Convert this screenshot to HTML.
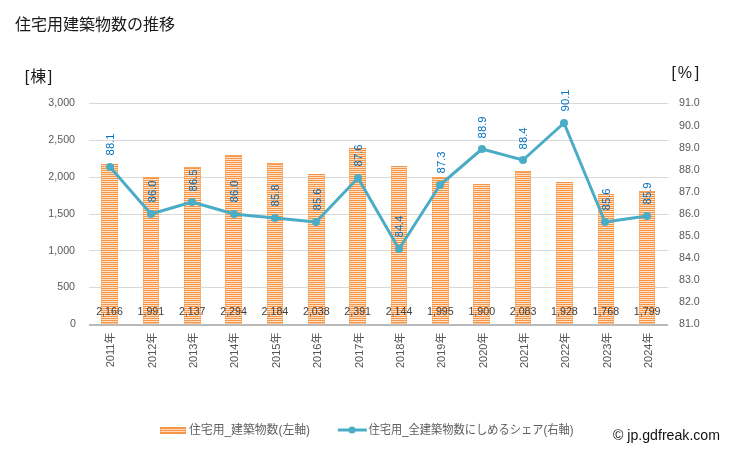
<!DOCTYPE html>
<html lang="ja"><head><meta charset="utf-8"><title>住宅用建築物数の推移</title>
<style>
html,body{margin:0;padding:0;background:#fff;}
body{width:729px;height:451px;overflow:hidden;font-family:"Liberation Sans","Noto Sans CJK JP",sans-serif;}
svg{display:block;}
text{font-family:"Liberation Sans","Noto Sans CJK JP",sans-serif;}
</style></head><body>
<svg width="729" height="451" viewBox="0 0 729 451">
<defs>
<pattern id="st" x="0" y="0" width="2" height="2" patternUnits="userSpaceOnUse">
<rect x="0" y="0" width="2" height="2" fill="#fde2ca"/>
<rect x="0" y="0" width="2" height="1" fill="#f79646"/>
</pattern>
</defs>
<rect width="729" height="451" fill="#fff"/>

<text x="15" y="30" font-size="16" fill="#1a1a1a">住宅用建築物数の推移</text>
<text x="24.7 30.2 47.7" y="82.4" font-size="16" fill="#1a1a1a">[棟]</text>
<text x="671.6 677.8 694.8" y="78" font-size="16" fill="#1a1a1a">[%]</text>
<line x1="89" x2="668.5" y1="103.5" y2="103.5" stroke="#d9d9d9" stroke-width="1"/>
<line x1="89" x2="668.5" y1="140.5" y2="140.5" stroke="#d9d9d9" stroke-width="1"/>
<line x1="89" x2="668.5" y1="177.5" y2="177.5" stroke="#d9d9d9" stroke-width="1"/>
<line x1="89" x2="668.5" y1="214.5" y2="214.5" stroke="#d9d9d9" stroke-width="1"/>
<line x1="89" x2="668.5" y1="250.5" y2="250.5" stroke="#d9d9d9" stroke-width="1"/>
<line x1="89" x2="668.5" y1="287.5" y2="287.5" stroke="#d9d9d9" stroke-width="1"/>
<text x="75.9" y="327.25" font-size="10.67" fill="#595959" text-anchor="end">0</text>
<text x="75" y="290.41" font-size="10.67" fill="#595959" text-anchor="end">500</text>
<text x="75" y="253.57" font-size="10.67" fill="#595959" text-anchor="end">1,000</text>
<text x="75" y="216.72" font-size="10.67" fill="#595959" text-anchor="end">1,500</text>
<text x="75" y="179.88" font-size="10.67" fill="#595959" text-anchor="end">2,000</text>
<text x="75" y="143.04" font-size="10.67" fill="#595959" text-anchor="end">2,500</text>
<text x="75" y="106.20" font-size="10.67" fill="#595959" text-anchor="end">3,000</text>
<text x="679" y="327.45" font-size="10.67" fill="#595959">81.0</text>
<text x="679" y="305.34" font-size="10.67" fill="#595959">82.0</text>
<text x="679" y="283.24" font-size="10.67" fill="#595959">83.0</text>
<text x="679" y="261.13" font-size="10.67" fill="#595959">84.0</text>
<text x="679" y="239.03" font-size="10.67" fill="#595959">85.0</text>
<text x="679" y="216.93" font-size="10.67" fill="#595959">86.0</text>
<text x="679" y="194.82" font-size="10.67" fill="#595959">87.0</text>
<text x="679" y="172.72" font-size="10.67" fill="#595959">88.0</text>
<text x="679" y="150.61" font-size="10.67" fill="#595959">89.0</text>
<text x="679" y="128.50" font-size="10.67" fill="#595959">90.0</text>
<text x="679" y="106.40" font-size="10.67" fill="#595959">91.0</text>
<rect x="101" y="164" width="17" height="160" fill="url(#st)"/>
<rect x="101.5" y="164.5" width="16" height="159" fill="none" stroke="#f79646" stroke-opacity="0.35" stroke-width="1"/>
<rect x="101" y="164" width="17" height="1" fill="#f79646" fill-opacity="0.7"/>
<rect x="143" y="177" width="16" height="147" fill="url(#st)"/>
<rect x="143.5" y="177.5" width="15" height="146" fill="none" stroke="#f79646" stroke-opacity="0.35" stroke-width="1"/>
<rect x="143" y="177" width="16" height="1" fill="#f79646" fill-opacity="0.7"/>
<rect x="184" y="167" width="17" height="157" fill="url(#st)"/>
<rect x="184.5" y="167.5" width="16" height="156" fill="none" stroke="#f79646" stroke-opacity="0.35" stroke-width="1"/>
<rect x="184" y="167" width="17" height="1" fill="#f79646" fill-opacity="0.7"/>
<rect x="225" y="155" width="17" height="169" fill="url(#st)"/>
<rect x="225.5" y="155.5" width="16" height="168" fill="none" stroke="#f79646" stroke-opacity="0.35" stroke-width="1"/>
<rect x="225" y="155" width="17" height="1" fill="#f79646" fill-opacity="0.7"/>
<rect x="267" y="163" width="16" height="161" fill="url(#st)"/>
<rect x="267.5" y="163.5" width="15" height="160" fill="none" stroke="#f79646" stroke-opacity="0.35" stroke-width="1"/>
<rect x="267" y="163" width="16" height="1" fill="#f79646" fill-opacity="0.7"/>
<rect x="308" y="174" width="17" height="150" fill="url(#st)"/>
<rect x="308.5" y="174.5" width="16" height="149" fill="none" stroke="#f79646" stroke-opacity="0.35" stroke-width="1"/>
<rect x="308" y="174" width="17" height="1" fill="#f79646" fill-opacity="0.7"/>
<rect x="349" y="148" width="17" height="176" fill="url(#st)"/>
<rect x="349.5" y="148.5" width="16" height="175" fill="none" stroke="#f79646" stroke-opacity="0.35" stroke-width="1"/>
<rect x="349" y="148" width="17" height="1" fill="#f79646" fill-opacity="0.7"/>
<rect x="391" y="166" width="16" height="158" fill="url(#st)"/>
<rect x="391.5" y="166.5" width="15" height="157" fill="none" stroke="#f79646" stroke-opacity="0.35" stroke-width="1"/>
<rect x="391" y="166" width="16" height="1" fill="#f79646" fill-opacity="0.7"/>
<rect x="432" y="177" width="17" height="147" fill="url(#st)"/>
<rect x="432.5" y="177.5" width="16" height="146" fill="none" stroke="#f79646" stroke-opacity="0.35" stroke-width="1"/>
<rect x="432" y="177" width="17" height="1" fill="#f79646" fill-opacity="0.7"/>
<rect x="473" y="184" width="17" height="140" fill="url(#st)"/>
<rect x="473.5" y="184.5" width="16" height="139" fill="none" stroke="#f79646" stroke-opacity="0.35" stroke-width="1"/>
<rect x="473" y="184" width="17" height="1" fill="#f79646" fill-opacity="0.7"/>
<rect x="515" y="171" width="16" height="153" fill="url(#st)"/>
<rect x="515.5" y="171.5" width="15" height="152" fill="none" stroke="#f79646" stroke-opacity="0.35" stroke-width="1"/>
<rect x="515" y="171" width="16" height="1" fill="#f79646" fill-opacity="0.7"/>
<rect x="556" y="182" width="17" height="142" fill="url(#st)"/>
<rect x="556.5" y="182.5" width="16" height="141" fill="none" stroke="#f79646" stroke-opacity="0.35" stroke-width="1"/>
<rect x="556" y="182" width="17" height="1" fill="#f79646" fill-opacity="0.7"/>
<rect x="598" y="194" width="16" height="130" fill="url(#st)"/>
<rect x="598.5" y="194.5" width="15" height="129" fill="none" stroke="#f79646" stroke-opacity="0.35" stroke-width="1"/>
<rect x="598" y="194" width="16" height="1" fill="#f79646" fill-opacity="0.7"/>
<rect x="639" y="191" width="16" height="133" fill="url(#st)"/>
<rect x="639.5" y="191.5" width="15" height="132" fill="none" stroke="#f79646" stroke-opacity="0.35" stroke-width="1"/>
<rect x="639" y="191" width="16" height="1" fill="#f79646" fill-opacity="0.7"/>
<rect x="89" y="324" width="579" height="2" fill="#bababa"/>
<text x="109.50" y="314.9" font-size="10.67" fill="#404040" text-anchor="middle">2,166</text>
<text x="150.86" y="314.9" font-size="10.67" fill="#404040" text-anchor="middle">1,991</text>
<text x="192.22" y="314.9" font-size="10.67" fill="#404040" text-anchor="middle">2,137</text>
<text x="233.58" y="314.9" font-size="10.67" fill="#404040" text-anchor="middle">2,294</text>
<text x="274.94" y="314.9" font-size="10.67" fill="#404040" text-anchor="middle">2,184</text>
<text x="316.30" y="314.9" font-size="10.67" fill="#404040" text-anchor="middle">2,038</text>
<text x="357.66" y="314.9" font-size="10.67" fill="#404040" text-anchor="middle">2,391</text>
<text x="399.02" y="314.9" font-size="10.67" fill="#404040" text-anchor="middle">2,144</text>
<text x="440.38" y="314.9" font-size="10.67" fill="#404040" text-anchor="middle">1,995</text>
<text x="481.74" y="314.9" font-size="10.67" fill="#404040" text-anchor="middle">1,900</text>
<text x="523.10" y="314.9" font-size="10.67" fill="#404040" text-anchor="middle">2,083</text>
<text x="564.46" y="314.9" font-size="10.67" fill="#404040" text-anchor="middle">1,928</text>
<text x="605.82" y="314.9" font-size="10.67" fill="#404040" text-anchor="middle">1,768</text>
<text x="647.18" y="314.9" font-size="10.67" fill="#404040" text-anchor="middle">1,799</text>
<text transform="translate(114.40,332.6) rotate(-90)" font-size="11" fill="#555" text-anchor="end">2011年</text>
<text transform="translate(155.76,332.6) rotate(-90)" font-size="11" fill="#555" text-anchor="end">2012年</text>
<text transform="translate(197.12,332.6) rotate(-90)" font-size="11" fill="#555" text-anchor="end">2013年</text>
<text transform="translate(238.48,332.6) rotate(-90)" font-size="11" fill="#555" text-anchor="end">2014年</text>
<text transform="translate(279.84,332.6) rotate(-90)" font-size="11" fill="#555" text-anchor="end">2015年</text>
<text transform="translate(321.20,332.6) rotate(-90)" font-size="11" fill="#555" text-anchor="end">2016年</text>
<text transform="translate(362.56,332.6) rotate(-90)" font-size="11" fill="#555" text-anchor="end">2017年</text>
<text transform="translate(403.92,332.6) rotate(-90)" font-size="11" fill="#555" text-anchor="end">2018年</text>
<text transform="translate(445.28,332.6) rotate(-90)" font-size="11" fill="#555" text-anchor="end">2019年</text>
<text transform="translate(486.64,332.6) rotate(-90)" font-size="11" fill="#555" text-anchor="end">2020年</text>
<text transform="translate(528.00,332.6) rotate(-90)" font-size="11" fill="#555" text-anchor="end">2021年</text>
<text transform="translate(569.36,332.6) rotate(-90)" font-size="11" fill="#555" text-anchor="end">2022年</text>
<text transform="translate(610.72,332.6) rotate(-90)" font-size="11" fill="#555" text-anchor="end">2023年</text>
<text transform="translate(652.08,332.6) rotate(-90)" font-size="11" fill="#555" text-anchor="end">2024年</text>
<polyline points="110,167 151,214 192,202 234,214 275,218 316,222 358,178 399,249 440,185 482,149 523,160 564,123 605,222 647,216" fill="none" stroke="#4bacc6" stroke-width="3" stroke-linejoin="round" stroke-linecap="round"/>
<circle cx="110" cy="167" r="4" fill="#4bacc6"/>
<circle cx="151" cy="214" r="4" fill="#4bacc6"/>
<circle cx="192" cy="202" r="4" fill="#4bacc6"/>
<circle cx="234" cy="214" r="4" fill="#4bacc6"/>
<circle cx="275" cy="218" r="4" fill="#4bacc6"/>
<circle cx="316" cy="222" r="4" fill="#4bacc6"/>
<circle cx="358" cy="178" r="4" fill="#4bacc6"/>
<circle cx="399" cy="249" r="4" fill="#4bacc6"/>
<circle cx="440" cy="185" r="4" fill="#4bacc6"/>
<circle cx="482" cy="149" r="4" fill="#4bacc6"/>
<circle cx="523" cy="160" r="4" fill="#4bacc6"/>
<circle cx="564" cy="123" r="4" fill="#4bacc6"/>
<circle cx="605" cy="222" r="4" fill="#4bacc6"/>
<circle cx="647" cy="216" r="4" fill="#4bacc6"/>
<text transform="translate(114.1,155.4) rotate(-90)" font-size="11.3" fill="#0070c0">88.1</text>
<text transform="translate(156.1,202.4) rotate(-90)" font-size="11.3" fill="#0070c0">86.0</text>
<text transform="translate(197.1,191.4) rotate(-90)" font-size="11.3" fill="#0070c0">86.5</text>
<text transform="translate(238.1,202.4) rotate(-90)" font-size="11.3" fill="#0070c0">86.0</text>
<text transform="translate(279.1,206.4) rotate(-90)" font-size="11.3" fill="#0070c0">85.8</text>
<text transform="translate(321.1,210.4) rotate(-90)" font-size="11.3" fill="#0070c0">85.6</text>
<text transform="translate(362.1,166.4) rotate(-90)" font-size="11.3" fill="#0070c0">87.6</text>
<text transform="translate(403.1,237.4) rotate(-90)" font-size="11.3" fill="#0070c0">84.4</text>
<text transform="translate(445.1,173.4) rotate(-90)" font-size="11.3" fill="#0070c0">87.3</text>
<text transform="translate(486.1,138.4) rotate(-90)" font-size="11.3" fill="#0070c0">88.9</text>
<text transform="translate(527.1,149.4) rotate(-90)" font-size="11.3" fill="#0070c0">88.4</text>
<text transform="translate(569.1,111.4) rotate(-90)" font-size="11.3" fill="#0070c0">90.1</text>
<text transform="translate(610.1,210.4) rotate(-90)" font-size="11.3" fill="#0070c0">85.6</text>
<text transform="translate(651.1,204.4) rotate(-90)" font-size="11.3" fill="#0070c0">85.9</text>
<rect x="160" y="427" width="26" height="7" fill="#f79646"/>
<rect x="160.6" y="429" width="24.8" height="1" fill="#fcd9bc"/>
<rect x="160.6" y="431" width="24.8" height="1" fill="#fcd9bc"/>
<text x="189" y="434" font-size="12" fill="#606060" textLength="121" lengthAdjust="spacingAndGlyphs">住宅用_建築物数(左軸)</text>
<line x1="337.8" x2="366.8" y1="430" y2="430" stroke="#4bacc6" stroke-width="3"/>
<circle cx="352" cy="430" r="3.6" fill="#4bacc6"/>
<text x="368.5" y="434" font-size="12" fill="#606060" textLength="205" lengthAdjust="spacingAndGlyphs">住宅用_全建築物数にしめるシェア(右軸)</text>
<text x="613" y="440.2" font-size="14" fill="#111" textLength="107" lengthAdjust="spacingAndGlyphs">© jp.gdfreak.com</text>
</svg></body></html>
